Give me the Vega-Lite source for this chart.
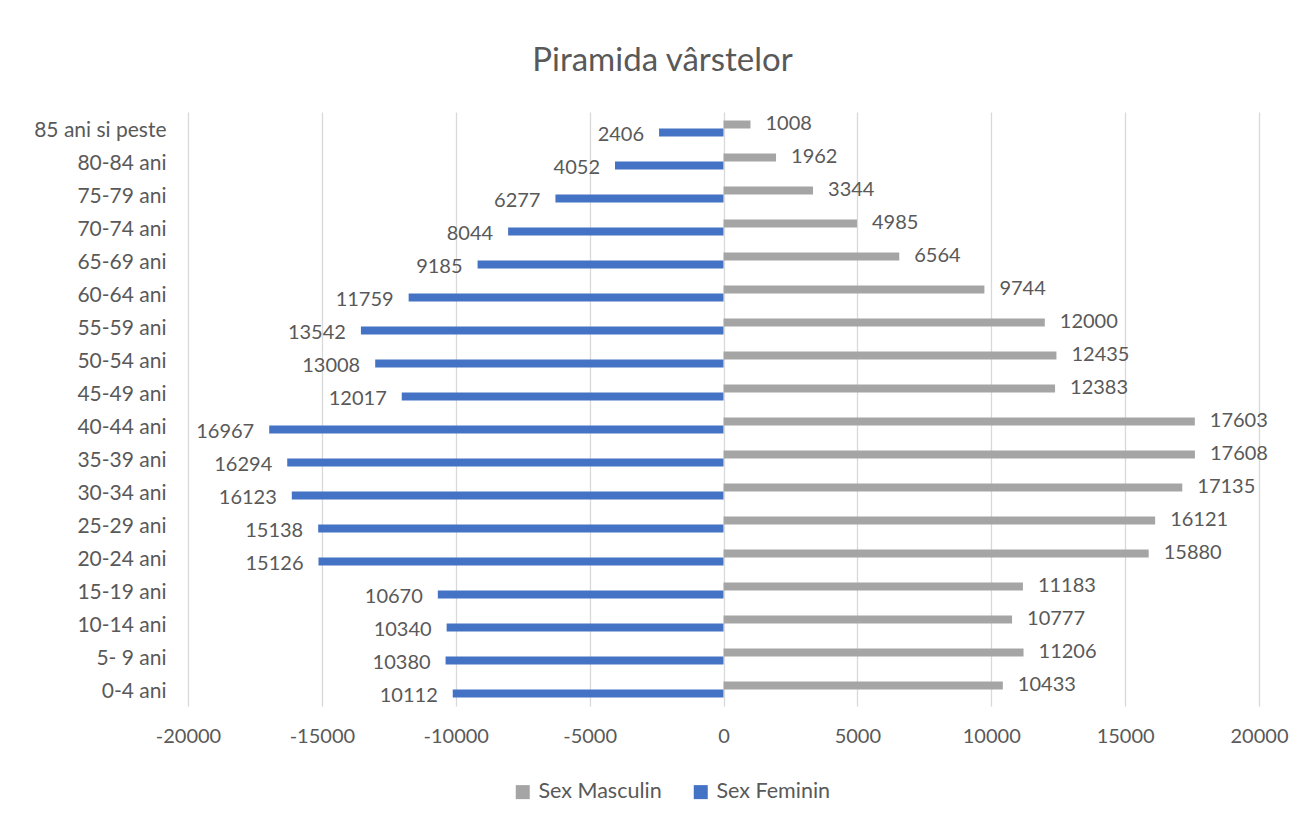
{
  "$schema": "https://vega.github.io/schema/vega-lite/v6.json",
  "width": 1071,
  "height": 594,
  "autosize": {"type": "none"},
  "padding": {"left": 188, "top": 112, "right": 52, "bottom": 116},
  "background": "white",
  "title": {"text": "Piramida vârstelor", "font": "Lato", "fontSize": 33, "fontWeight": "normal", "color": "#595959", "anchor": "middle", "dx": -61, "offset": 34},
  "config": {"view": {"stroke": null}},
  "data": {"values": [
    {"age": "85 ani si peste", "sex": "Sex Masculin", "value": 1008},
    {"age": "85 ani si peste", "sex": "Sex Feminin", "value": -2406},
    {"age": "80-84 ani", "sex": "Sex Masculin", "value": 1962},
    {"age": "80-84 ani", "sex": "Sex Feminin", "value": -4052},
    {"age": "75-79 ani", "sex": "Sex Masculin", "value": 3344},
    {"age": "75-79 ani", "sex": "Sex Feminin", "value": -6277},
    {"age": "70-74 ani", "sex": "Sex Masculin", "value": 4985},
    {"age": "70-74 ani", "sex": "Sex Feminin", "value": -8044},
    {"age": "65-69 ani", "sex": "Sex Masculin", "value": 6564},
    {"age": "65-69 ani", "sex": "Sex Feminin", "value": -9185},
    {"age": "60-64 ani", "sex": "Sex Masculin", "value": 9744},
    {"age": "60-64 ani", "sex": "Sex Feminin", "value": -11759},
    {"age": "55-59 ani", "sex": "Sex Masculin", "value": 12000},
    {"age": "55-59 ani", "sex": "Sex Feminin", "value": -13542},
    {"age": "50-54 ani", "sex": "Sex Masculin", "value": 12435},
    {"age": "50-54 ani", "sex": "Sex Feminin", "value": -13008},
    {"age": "45-49 ani", "sex": "Sex Masculin", "value": 12383},
    {"age": "45-49 ani", "sex": "Sex Feminin", "value": -12017},
    {"age": "40-44 ani", "sex": "Sex Masculin", "value": 17603},
    {"age": "40-44 ani", "sex": "Sex Feminin", "value": -16967},
    {"age": "35-39 ani", "sex": "Sex Masculin", "value": 17608},
    {"age": "35-39 ani", "sex": "Sex Feminin", "value": -16294},
    {"age": "30-34 ani", "sex": "Sex Masculin", "value": 17135},
    {"age": "30-34 ani", "sex": "Sex Feminin", "value": -16123},
    {"age": "25-29 ani", "sex": "Sex Masculin", "value": 16121},
    {"age": "25-29 ani", "sex": "Sex Feminin", "value": -15138},
    {"age": "20-24 ani", "sex": "Sex Masculin", "value": 15880},
    {"age": "20-24 ani", "sex": "Sex Feminin", "value": -15126},
    {"age": "15-19 ani", "sex": "Sex Masculin", "value": 11183},
    {"age": "15-19 ani", "sex": "Sex Feminin", "value": -10670},
    {"age": "10-14 ani", "sex": "Sex Masculin", "value": 10777},
    {"age": "10-14 ani", "sex": "Sex Feminin", "value": -10340},
    {"age": "5- 9 ani", "sex": "Sex Masculin", "value": 11206},
    {"age": "5- 9 ani", "sex": "Sex Feminin", "value": -10380},
    {"age": "0-4 ani", "sex": "Sex Masculin", "value": 10433},
    {"age": "0-4 ani", "sex": "Sex Feminin", "value": -10112}
  ]},
  "transform": [{"calculate": "abs(datum.value)", "as": "label"}],
  "encoding": {
    "y": {
      "field": "age", "type": "nominal", "sort": null, "title": null,
      "scale": {"paddingInner": 0.515, "paddingOuter": 0.2575},
      "axis": {"labelFont": "Lato", "labelFontSize": 21, "labelColor": "#595959", "ticks": false, "domain": false, "grid": false, "labelPadding": 22, "labelOffset": 2}
    },
    "yOffset": {"field": "sex", "type": "nominal", "scale": {"domain": ["Sex Masculin", "Sex Feminin"], "paddingInner": 0, "paddingOuter": 0}},
    "x": {
      "field": "value", "type": "quantitative", "title": null,
      "scale": {"domain": [-20000, 20000], "nice": false},
      "axis": {"values": [-20000, -15000, -10000, -5000, 0, 5000, 10000, 15000, 20000], "labelExpr": "'' + datum.value", "labelFont": "Lato", "labelFontSize": 20, "labelColor": "#595959", "ticks": false, "domain": false, "grid": true, "gridColor": "#D9D9D9", "gridWidth": 1.3, "labelPadding": 20, "labelFlush": false}
    }
  },
  "layer": [
    {
      "mark": {"type": "bar"},
      "encoding": {
        "color": {
          "field": "sex", "type": "nominal",
          "scale": {"domain": ["Sex Masculin", "Sex Feminin"], "range": ["#A5A5A5", "#4472C4"]},
          "legend": {"title": null, "orient": "none", "legendX": 324, "legendY": 669, "direction": "horizontal", "symbolType": "square", "symbolSize": 196, "symbolStrokeWidth": 0, "symbolOpacity": 1, "labelFont": "Lato", "labelFontSize": 21.5, "labelColor": "#595959", "labelOffset": 5, "columnPadding": 28, "padding": 0}
        }
      }
    },
    {
      "transform": [{"filter": "datum.value >= 0"}],
      "mark": {"type": "text", "font": "Lato", "fontSize": 20, "color": "#595959", "align": "left", "baseline": "middle", "dx": 15},
      "encoding": {"text": {"field": "label", "type": "quantitative", "format": "d"}}
    },
    {
      "transform": [{"filter": "datum.value < 0"}],
      "mark": {"type": "text", "font": "Lato", "fontSize": 20, "color": "#595959", "align": "right", "baseline": "middle", "dx": -15, "dy": 2},
      "encoding": {"text": {"field": "label", "type": "quantitative", "format": "d"}}
    }
  ]
}
